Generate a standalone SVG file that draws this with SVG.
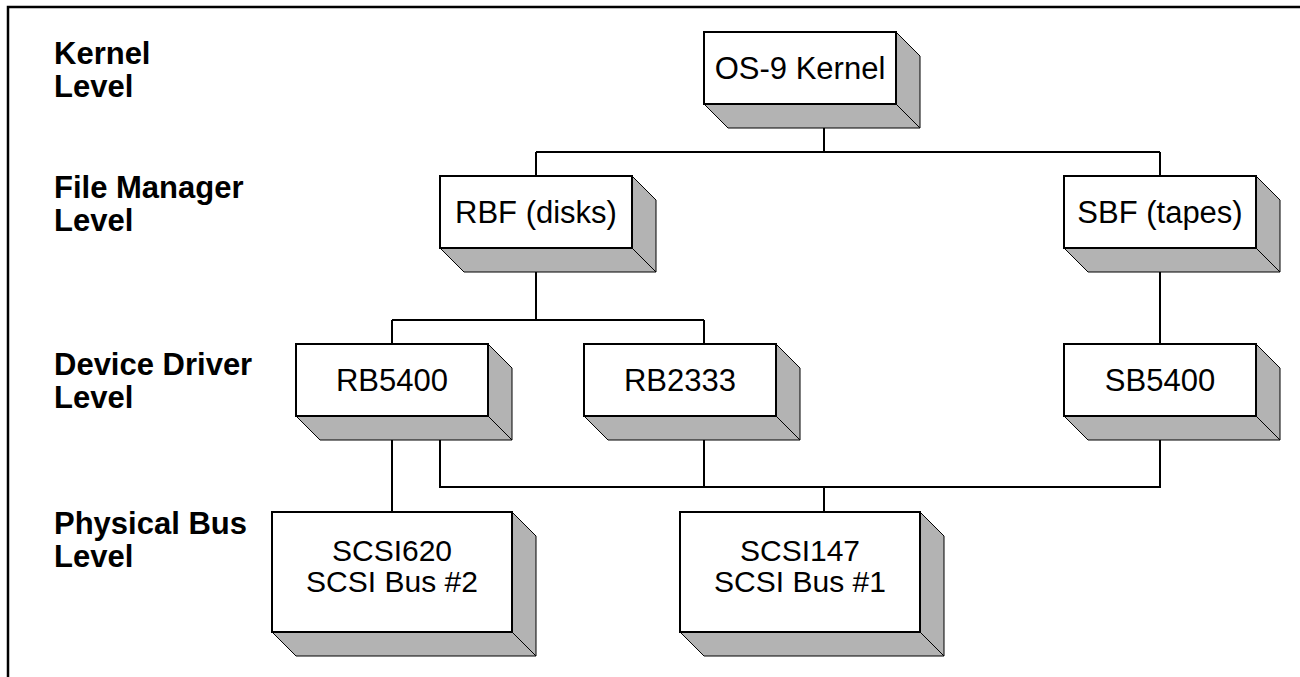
<svg xmlns="http://www.w3.org/2000/svg" width="1300" height="677" viewBox="0 0 1300 677">
<style>
.front{fill:#fff;stroke:#000;stroke-width:2}
.side{fill:#b3b3b3;stroke:#000;stroke-width:1;stroke-linejoin:round}
.lbl{font-family:"Liberation Sans",Arial,sans-serif;font-size:31px;fill:#000;text-anchor:middle}
.lbl2{font-family:"Liberation Sans",Arial,sans-serif;font-size:30px;fill:#000;text-anchor:middle}
.lvl{font-family:"Liberation Sans",Arial,sans-serif;font-size:31px;font-weight:bold;fill:#000}
.conn{fill:none;stroke:#000;stroke-width:2}
</style>
<rect x="0" y="0" width="1300" height="677" fill="#fff"/>
<g id="frame"><path d="M8 677 V7 H1300" fill="none" stroke="#000" stroke-width="2.5"/></g>
<g id="levels">
<text class="lvl" x="54" y="64">Kernel</text><text class="lvl" x="54" y="97">Level</text>
<text class="lvl" x="54" y="198">File Manager</text><text class="lvl" x="54" y="231">Level</text>
<text class="lvl" x="54" y="375">Device Driver</text><text class="lvl" x="54" y="408">Level</text>
<text class="lvl" x="54" y="534">Physical Bus</text><text class="lvl" x="54" y="567">Level</text>
</g>
<g id="connectors" class="conn">
<path d="M824 127 V152 M536 152 H1160 M536 152 V176 M1160 152 V176"/>
<path d="M536 271 V320 M392 320 H704 M392 320 V344 M704 320 V344"/>
<path d="M1160 271 V344"/>
<path d="M392 440 V512"/>
<path d="M440 440 V487 H1160 V440 M704 440 V487 M824 487 V512"/>
</g>
<g id="kernel">
<path class="side" d="M704 104 H896 L920 128 H728 Z"/><path class="side" d="M896 32 L920 56 V128 L896 104 Z"/>
<rect class="front" x="704" y="32" width="192" height="72"/>
<text class="lbl" x="800" y="79">OS-9 Kernel</text>
</g>
<g id="rbf">
<path class="side" d="M440 248 H632 L656 272 H464 Z"/><path class="side" d="M632 176 L656 200 V272 L632 248 Z"/>
<rect class="front" x="440" y="176" width="192" height="72"/>
<text class="lbl" x="536" y="223">RBF (disks)</text>
</g>
<g id="sbf">
<path class="side" d="M1064 248 H1256 L1280 272 H1088 Z"/><path class="side" d="M1256 176 L1280 200 V272 L1256 248 Z"/>
<rect class="front" x="1064" y="176" width="192" height="72"/>
<text class="lbl" x="1160" y="223">SBF (tapes)</text>
</g>
<g id="rb5400">
<path class="side" d="M296 416 H488 L512 440 H320 Z"/><path class="side" d="M488 344 L512 368 V440 L488 416 Z"/>
<rect class="front" x="296" y="344" width="192" height="72"/>
<text class="lbl" x="392" y="391">RB5400</text>
</g>
<g id="rb2333">
<path class="side" d="M584 416 H776 L800 440 H608 Z"/><path class="side" d="M776 344 L800 368 V440 L776 416 Z"/>
<rect class="front" x="584" y="344" width="192" height="72"/>
<text class="lbl" x="680" y="391">RB2333</text>
</g>
<g id="sb5400">
<path class="side" d="M1064 416 H1256 L1280 440 H1088 Z"/><path class="side" d="M1256 344 L1280 368 V440 L1256 416 Z"/>
<rect class="front" x="1064" y="344" width="192" height="72"/>
<text class="lbl" x="1160" y="391">SB5400</text>
</g>
<g id="scsi620">
<path class="side" d="M272 632 H512 L536 656 H296 Z"/><path class="side" d="M512 512 L536 536 V656 L512 632 Z"/>
<rect class="front" x="272" y="512" width="240" height="120"/>
<text class="lbl2" x="392" y="561">SCSI620</text><text class="lbl2" x="392" y="592">SCSI Bus #2</text>
</g>
<g id="scsi147">
<path class="side" d="M680 632 H920 L944 656 H704 Z"/><path class="side" d="M920 512 L944 536 V656 L920 632 Z"/>
<rect class="front" x="680" y="512" width="240" height="120"/>
<text class="lbl2" x="800" y="561">SCSI147</text><text class="lbl2" x="800" y="592">SCSI Bus #1</text>
</g>
</svg>
